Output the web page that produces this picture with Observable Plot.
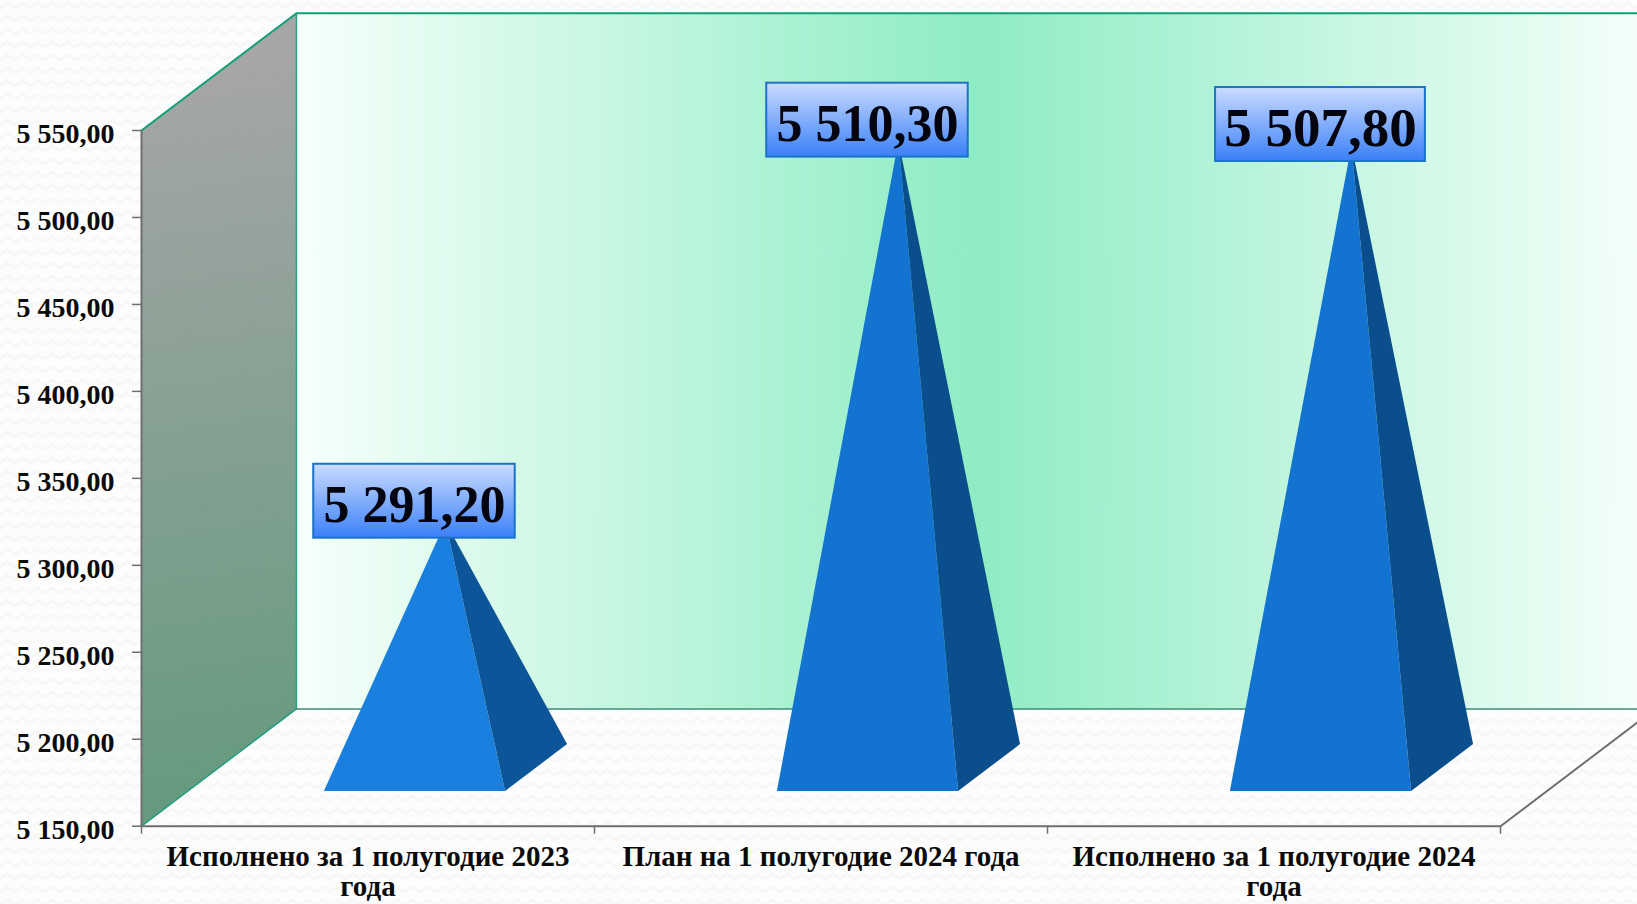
<!DOCTYPE html>
<html><head><meta charset="utf-8">
<script src="https://cdn.jsdelivr.net/npm/d3@7"></script>
<script src="https://cdn.jsdelivr.net/npm/@observablehq/plot@0.6"></script>
<style>
html,body{margin:0;padding:0;width:1637px;height:904px;overflow:hidden;background:#fdfdfd;}
svg{display:block;}
</style></head><body>
<div id="chart"></div>
<script>
const categories = ["Исполнено за 1 полугодие 2023\nгода","План на 1 полугодие 2024 года","Исполнено за 1 полугодие 2024\nгода"];
const values = [5291.2,5510.3,5507.8];
const yTicks = [5150,5200,5250,5300,5350,5400,5450,5500,5550];
const xTicks = [0,1,2,3];
const yMin = 5150, yMax = 5550;
const frontColors = ["#1a80e0","#1274d0","#1274d0"];
const sideColors = ["#0c5598","#0a4f8c","#0a4f8c"];
const labelHalfWidths = [0.2224,0.2224,0.2316];

// 3-D projection: depth in [0,1] shifts a point right and up
const depthX = 0.342, depthY = 67.45, halfWidth = 0.2, frontDepth = 0.3, backDepth = 0.7;
const px = (xv,d) => xv + d*depthX;
const py = (yv,d) => yv + d*depthY;
const fmt = d3.formatLocale({decimal:",",thousands:" ",grouping:[3]}).format(",.2f");

const P = (x,y) => ({x,y});
const xEnd = xTicks[xTicks.length-1];
const leftWall = [P(0,yMin),P(0,yMax),P(px(0,1),py(yMax,1)),P(px(0,1),py(yMin,1))];
const backWall = [P(px(0,1),py(yMin,1)),P(px(0,1),py(yMax,1)),P(px(xEnd,1),py(yMax,1)),P(px(xEnd,1),py(yMin,1))];
const pyramids = values.map((v,i)=>{
  const c = i+0.5;
  const fl = P(px(c-halfWidth,frontDepth),py(yMin,frontDepth));
  const fr = P(px(c+halfWidth,frontDepth),py(yMin,frontDepth));
  const br = P(px(c+halfWidth,backDepth),py(yMin,backDepth));
  const apex = P(px(c,0.5),py(v,0.5));
  return {i,fl,fr,br,apex,v};
});
const front = pyramids.flatMap(p=>[p.fl,p.fr,p.apex].map(q=>({...q,z:p.i,c:frontColors[p.i]})));
const side  = pyramids.flatMap(p=>[p.fr,p.br,p.apex].map(q=>({...q,z:p.i,c:sideColors[p.i]})));
const labelBottom = 24.4, labelHeight = 42.5;
const labels = values.map((v,i)=>({v,hw:labelHalfWidths[i],xc:px(i+0.5,frontDepth),y1:v+labelBottom,y2:v+labelBottom+labelHeight}));

const svgNS = "http://www.w3.org/2000/svg";
function defs(){
  const g = document.createElementNS(svgNS,"g");
  g.innerHTML = `<defs>
  <pattern id="bgw" width="15" height="13" patternUnits="userSpaceOnUse">
    <path d="M0 8 L7.5 3 L15 8" fill="none" stroke="#f7f7f7" stroke-width="3"/>
  </pattern>
  <linearGradient id="gWall" gradientUnits="userSpaceOnUse" x1="180" y1="60" x2="280" y2="790">
    <stop offset="0" stop-color="#a6a6a6"/><stop offset="1" stop-color="#659a7e"/>
  </linearGradient>
  <linearGradient id="gBack" x1="0" y1="0" x2="1" y2="0">
    <stop offset="0" stop-color="#f6fffa"/><stop offset="0.5" stop-color="#8eecc4"/><stop offset="1" stop-color="#f6fffa"/>
  </linearGradient>
  <linearGradient id="gLabel" x1="0" y1="0" x2="0" y2="1">
    <stop offset="0" stop-color="#cbdcff"/><stop offset="1" stop-color="#3a80f8"/>
  </linearGradient></defs>
  <rect width="1637" height="904" fill="#fdfdfd"/><rect width="1637" height="904" fill="url(#bgw)"/>`;
  return g;
}
const serif = "'Liberation Serif',serif";
const chart = Plot.plot({
  width:1637,height:904,
  marginLeft:141,marginRight:137,marginTop:130,marginBottom:78.3,
  style:{background:"#fdfdfd",fontFamily:serif,overflow:"hidden",maxWidth:"none"},
  x:{type:"linear",domain:[0,3]},
  y:{type:"linear",domain:[yMin,yMax]},
  color:{type:"identity"},
  marks:[
    defs,
    Plot.line(leftWall,{x:"x",y:"y",curve:"linear-closed",fill:"url(#gWall)",stroke:"none"}),
    Plot.line(backWall,{x:"x",y:"y",curve:"linear-closed",fill:"url(#gBack)",stroke:"none"}),
    // wall edges
    Plot.line([leftWall[0],leftWall[3]],{x:"x",y:"y",stroke:"#249e80",strokeWidth:1.5}),
    Plot.line([leftWall[1],leftWall[2],backWall[2]],{x:"x",y:"y",stroke:"#10a078",strokeWidth:2}),
    Plot.line([leftWall[3],leftWall[2]],{x:"x",y:"y",stroke:"#2ba184",strokeWidth:1.5}),
    Plot.line([backWall[0],backWall[3]],{x:"x",y:"y",stroke:"#3f8c74",strokeWidth:1.5}),
    // axes
    Plot.ruleX([0],{y1:yMin,y2:yMax,stroke:"#6f6f6f",strokeWidth:2}),
    Plot.line([P(0,yMin),P(xEnd,yMin),P(px(xEnd,1),py(yMin,1))],{x:"x",y:"y",stroke:"#6f6f6f",strokeWidth:2}),
    Plot.axisY({ticks:yTicks,tickFormat:()=>"",tickSize:9,strokeWidth:1.5,stroke:"#6f6f6f",label:null}),
    Plot.axisY({ticks:yTicks,tickFormat:fmt,tickSize:0,tickPadding:27,fill:"#0b0b0b",label:null,fontSize:28,fontWeight:700,dy:4}),
    Plot.axisX({ticks:xTicks,tickFormat:()=>"",tickSize:8,strokeWidth:1.5,stroke:"#6f6f6f",label:null,anchor:"bottom"}),
    Plot.text(categories,{x:(d,i)=>i+0.5,y:()=>yMin,text:d=>d,lineAnchor:"top",dy:18,lineHeight:1.05,fontSize:29,fontWeight:700,fill:"#0b0b0b",textAnchor:"middle"}),
    // pyramids
    Plot.line(front,{x:"x",y:"y",z:"z",curve:"linear-closed",fill:"c",stroke:"none"}),
    Plot.line(side,{x:"x",y:"y",z:"z",curve:"linear-closed",fill:"c",stroke:"none"}),
    // data labels
    Plot.rect(labels,{x1:d=>d.xc-d.hw,x2:d=>d.xc+d.hw,y1:"y1",y2:"y2",fill:"url(#gLabel)",stroke:"#1a73c8",strokeWidth:2}),
    Plot.text(labels.slice(0,2),{x:"xc",y:d=>(d.y1+d.y2)/2,text:d=>fmt(d.v),fontSize:52,fontWeight:700,fill:"#050510",dy:4}),
    Plot.text(labels.slice(2),{x:"xc",y:d=>(d.y1+d.y2)/2,text:d=>fmt(d.v),fontSize:55,fontWeight:700,fill:"#050510",dy:4})
  ]
});
document.getElementById("chart").appendChild(chart);
</script></body></html>
